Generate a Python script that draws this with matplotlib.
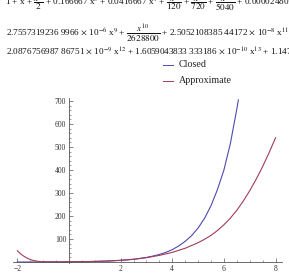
import matplotlib
matplotlib.use("Agg")
import matplotlib.pyplot as plt
from matplotlib.ticker import MultipleLocator, FixedLocator

plt.rcParams['font.family'] = ['Liberation Serif', 'DejaVu Serif']
plt.rcParams['mathtext.fontset'] = 'stix'

# Data
closed_x = [-2.0, -1.5, -1.0, -0.5, 0.0, 0.5, 1.0, 1.5, 2.0, 2.5, 3.0, 3.25, 3.5, 3.75, 4.0, 4.25, 4.5,
            4.75, 5.0, 5.25, 5.5, 5.75, 6.0, 6.25, 6.5, 6.56]
closed_y = [0.1, 0.2, 0.4, 0.6, 1.0, 1.6, 2.7, 4.5, 7.4, 12, 20, 26, 33, 42, 54, 70, 90,
            115, 148, 190, 245, 315, 400, 515, 665, 705]

approx_x = [-2.0, -1.9, -1.8, -1.7, -1.6, -1.5, -1.4, -1.3, -1.2, -1.1, -1.0, -0.5, 0.0, 0.5, 1.0, 1.5,
            2.0, 2.5, 3.0, 3.5, 4.0, 4.5, 5.0, 5.25, 5.5, 5.75, 6.0, 6.25, 6.5, 6.75, 7.0, 7.25,
            7.5, 7.75, 8.0]
approx_y = [49, 38, 29, 22, 16, 11, 7.5, 5, 3.2, 2.0, 1.2, 0.6, 1.0, 1.6, 2.7, 4.5,
            7.4, 12, 19, 29, 42, 60, 84, 99, 116, 137, 162, 191, 225, 265, 310, 360,
            415, 475, 540]

series_labels = ["Closed", "Approximate"]
xtick_vals = [-2, 2, 4, 6, 8]
ytick_vals = [100, 200, 300, 400, 500, 600, 700]

W, H = 289, 278
fig = plt.figure(figsize=(W / 100, H / 100), dpi=100)

ax = fig.add_axes([13 / W, (H - 263.2) / H, 269 / W, 165 / H])
ax.set_xlim(-2.17, 8.25)
ax.set_ylim(-5, 712)

c_closed = '#4b4bb0'
c_approx = '#a03c5c'
ax.plot(closed_x, closed_y, color=c_closed, lw=0.8)
ax.plot(approx_x, approx_y, color=c_approx, lw=0.8)

for s in ['top', 'right']:
    ax.spines[s].set_visible(False)
ax.spines['left'].set_position(('data', 0))
ax.spines['bottom'].set_position(('data', 0))
for s in ['left', 'bottom']:
    ax.spines[s].set_color('#555555')
    ax.spines[s].set_linewidth(0.6)

ax.xaxis.set_major_locator(FixedLocator(xtick_vals))
ax.xaxis.set_minor_locator(MultipleLocator(0.5))
ax.yaxis.set_major_locator(FixedLocator(ytick_vals))
ax.yaxis.set_minor_locator(MultipleLocator(20))
ax.set_xticklabels(['\u22122' if v < 0 else str(v) for v in xtick_vals])
ax.set_yticklabels([str(v) for v in ytick_vals])
ax.tick_params(which='major', direction='in', length=3, width=0.5, color='#555555',
               labelsize=5.5, labelcolor='#333333', pad=2)
ax.tick_params(which='minor', direction='in', length=1.5, width=0.4, color='#555555')

# Header formula text (cut off at figure edges like the reference)
fs = 6.6
line1 = (r"1 + x + $\dfrac{x^{2}}{2}$ + 0.166667 x$^{3}$ + 0.0416667 x$^{4}$ + "
         r"$\dfrac{x^{5}}{120}$ + $\dfrac{x^{6}}{720}$ + $\dfrac{x^{7}}{5040}$ + 0.0000248016 x$^{8}$ +")
line2 = (r"2.7557319236 9966 $\times$ 10$^{-6}$ x$^{9}$ + $\dfrac{x^{10}}{2628800}$ + "
         r"2.5052108385 44172 $\times$ 10$^{-8}$ x$^{11}$ +")
line3 = (r"2.0876756987 86751 $\times$ 10$^{-9}$ x$^{12}$ + 1.6059043833 333186 $\times$ 10$^{-10}$ x$^{13}$ + "
         r"1.1470745597 729725 $\times$ 10$^{-11}$ x$^{14}$")
fig.text(5 / W, 1 - 5 / H, line1, fontsize=fs, ha='left', va='baseline', color='#111111')
fig.text(6 / W, 1 - 35 / H, line2, fontsize=fs, ha='left', va='baseline', color='#111111')
fig.text(6 / W, 1 - 54 / H, line3, fontsize=fs, ha='left', va='baseline', color='#111111')

# Legend (manual, Mathematica style)
for i, (lab, col) in enumerate(zip(series_labels, [c_closed, c_approx])):
    yy = 1 - (64.5 + 16 * i) / H
    fig.add_artist(plt.Line2D([163 / W, 173 / W], [yy, yy], color=col, lw=0.7,
                              transform=fig.transFigure))
    fig.text(179 / W, yy, lab, fontsize=7.2, ha='left', va='center', color='#222222')

fig.savefig('out.png', dpi=100)
